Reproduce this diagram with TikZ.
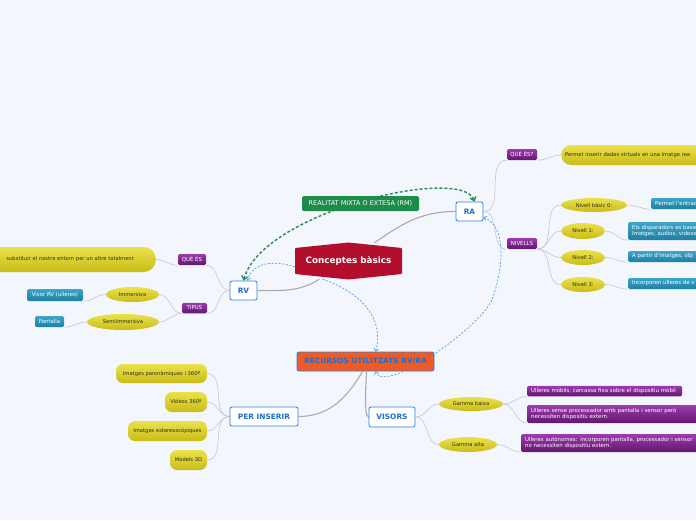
\documentclass[tikz,border=0pt]{standalone}
\usepackage{fontspec}
\setmainfont{DejaVu Sans}
\usetikzlibrary{shapes.geometric,arrows.meta,backgrounds}

\definecolor{bgblue}{HTML}{F3F6FD}
\definecolor{rootred}{HTML}{B30E2B}
\definecolor{topicborder}{HTML}{2F80DC}
\definecolor{topictext}{HTML}{1C6FD2}
\definecolor{recorange}{HTML}{F05A24}
\definecolor{rmgreen}{HTML}{1D8B4A}
\definecolor{tagtop}{HTML}{9B3CAC}
\definecolor{tagbot}{HTML}{62176F}
\definecolor{notetop}{HTML}{3AA6CA}
\definecolor{notebot}{HTML}{1F7FA2}
\definecolor{yelltop}{HTML}{EBE14C}
\definecolor{yellbot}{HTML}{C9BC18}
\definecolor{leaftext}{HTML}{2E2E12}
\definecolor{linegray}{HTML}{C4C4C4}
\definecolor{maingray}{HTML}{ABABAB}
\definecolor{relblue}{HTML}{4A9BE6}
\definecolor{relgreen}{HTML}{2E8B57}

\newcommand{\fixtxt}[1]{\makebox[0pt]{#1}}

\begin{document}
\begin{tikzpicture}[x=1pt,y=-1pt,line cap=round,line join=round,
  topic/.style={draw=topicborder,line width=0.8pt,fill=white,rounded corners=2pt,text=topictext,
    font=\bfseries\fontsize{7.4}{8.4}\selectfont,inner sep=0pt},
  rootlabel/.style={text=white,font=\bfseries\fontsize{8.8}{10}\selectfont,inner sep=0pt},
  rmlabel/.style={fill=rmgreen,rounded corners=1.5pt,text=white,font=\fontsize{6.5}{7.5}\selectfont,inner sep=0pt},
  tag/.style={rounded corners=1.5pt,top color=tagtop,bottom color=tagbot,text=white,
    font=\fontsize{5.4}{6.4}\selectfont,inner sep=0pt},
  note/.style={rounded corners=1.5pt,top color=notetop,bottom color=notebot,text=white,
    font=\fontsize{5.4}{6.6}\selectfont,inner xsep=4pt,inner ysep=0pt,anchor=west,align=left},
  pnote/.style={note,top color=tagtop,bottom color=tagbot},
  leaf/.style={ellipse,top color=yelltop,bottom color=yellbot,text=leaftext,
    font=\fontsize{5.2}{6.2}\selectfont,inner sep=0pt},
  leafbox/.style={leaf,rectangle,rounded corners=7pt},
  link/.style={draw=linegray,line width=0.55pt},
  mainlink/.style={draw=maingray,line width=1.1pt},
  relb/.style={draw=relblue,line width=0.65pt,dash pattern=on 2pt off 1.6pt,
    >={Straight Barb[length=2.5pt,width=4.5pt]}},
  relg/.style={draw=relgreen,line width=1.4pt,dash pattern=on 3pt off 2pt,
    >={Straight Barb[length=3.5pt,width=6pt]}}]
  \useasboundingbox (0,0) rectangle (696,520);
  \clip (0,0) rectangle (696,520);

  \fill[rootred,rounded corners=1pt] (295,248) -- (348.5,242.5) -- (402,248) -- (402,274) -- (348.5,279.5) -- (295,274) -- cycle;
  \node[rootlabel,minimum width=107pt,minimum height=36pt] (root) at (348.5,261) {Conceptes bàsics};

  \node[topic,minimum width=27pt,minimum height=19pt] (ra) at (469.5,211.5) {RA};
  \node[topic,minimum width=27pt,minimum height=19pt] (rv) at (243.5,290.5) {RV};
  \node[topic,fill=recorange,minimum width=137pt,minimum height=19pt] (recursos) at (365.5,361.5) {RECURSOS UTILITZATS RV/RA};
  \node[topic,minimum width=68pt,minimum height=19pt] (perins) at (264,416.5) {PER INSERIR};
  \node[topic,minimum width=46pt,minimum height=20pt] (visors) at (392,417) {VISORS};
  \node[rmlabel,minimum width=117pt,minimum height=15pt] (mixta) at (360.5,203.5) {REALITAT MIXTA O EXTESA (RM)};

  \node[tag,minimum width=28pt,minimum height=11pt] (rvques) at (192,259.5) {QUÈ ÉS};
  \node[tag,minimum width=25pt,minimum height=10.5pt] (tipus) at (194.5,308) {TIPUS};
  \node[tag,minimum width=30pt,minimum height=11pt] (raques) at (522,154.5) {QUÈ ÉS?};
  \node[tag,minimum width=30pt,minimum height=11pt] (nivells) at (522,243.5) {NIVELLS};

  \node[leafbox,rounded corners=12pt,anchor=east,minimum height=25pt,text width=230pt,align=right,inner xsep=22pt] (subst) at (156,259.5) {substituir el nostre entorn per un altre totalment};
  \node[leaf,minimum width=53pt,minimum height=15pt] (immer) at (132.5,294.5) {\fixtxt{Immersiva}};
  \node[leaf,minimum width=72pt,minimum height=16pt] (semi) at (123,322) {\fixtxt{Semiimmersiva}};
  \node[note,anchor=center,minimum width=56pt,minimum height=12pt,inner xsep=2pt] (visor) at (55,295) {Visor RV (ulleres)};
  \node[note,anchor=center,minimum width=29pt,minimum height=11pt,inner xsep=2pt] (pant) at (49.5,321.5) {Pantalla};

  \node[leafbox,rounded corners=10pt,anchor=west,minimum height=20pt,text width=190pt,align=left,inner xsep=4pt] (inserir) at (561,155) {Permet inserir dades virtuals en una imatge rea};
  \node[leaf,minimum width=66pt,minimum height=14pt] (niv0) at (594,205) {\fixtxt{Nivell bàsic 0:}};
  \node[leaf,minimum width=44pt,minimum height=16pt] (niv1) at (583,231) {\fixtxt{Nivell 1:}};
  \node[leaf,minimum width=44pt,minimum height=15pt] (niv2) at (583,257.5) {\fixtxt{Nivell 2:}};
  \node[leaf,minimum width=44pt,minimum height=15pt] (niv3) at (583,284.5) {\fixtxt{Nivell 3:}};
  \node[note,minimum height=11pt,text width=120pt] (n0) at (651,203.5) {Permet l'entrac};
  \node[note,minimum height=18pt,text width=120pt] (n1) at (628,231) {Els disparadors es base\\Imatges, audios, videos};
  \node[note,minimum height=11pt,text width=120pt] (n2) at (628,256.5) {A partir d'imatges, obj};
  \node[note,minimum height=11pt,text width=120pt] (n3) at (628,283.5) {Incorporen ulleres de v};

  \node[leafbox,minimum width=91pt,minimum height=19pt] (pano) at (161.5,373.5) {\fixtxt{Imatges panoràmiques i 360º}};
  \node[leafbox,minimum width=42pt,minimum height=20pt] (videos) at (186,402) {\fixtxt{Videos 360º}};
  \node[leafbox,minimum width=79pt,minimum height=20pt] (ester) at (167.5,431) {\fixtxt{Imatges estereoscòpiques}};
  \node[leafbox,minimum width=37pt,minimum height=20pt] (models) at (188.5,460) {\fixtxt{Models 3D}};

  \node[leaf,minimum width=64pt,minimum height=14pt] (gbaixa) at (471,404) {\fixtxt{Gamma baixa}};
  \node[leaf,minimum width=58pt,minimum height=15pt] (galta) at (468,444.5) {\fixtxt{Gamma alta}};
  \node[pnote,minimum height=10.5pt,text width=147pt] (u1) at (527,391) {Ulleres mòbils, carcassa fixa sobre el dispositiu mòbil};
  \node[pnote,minimum height=18pt,text width=180pt] (u2) at (527,414) {Ulleres sense processador amb pantalla i sensor però\\necessiten dispositiu extern.};
  \node[pnote,minimum height=18pt,text width=200pt] (u3) at (521,443) {Ulleres autònomes: incorporen pantalla, processador i sensor\\no necessiten dispositiu extern.};

  \begin{scope}[on background layer]
    \fill[bgblue] (0,0) rectangle (696,520);
    \draw[mainlink] (root) to[out=35,in=180] (ra.west);
    \draw[mainlink] (root) to[out=212,in=0] (rv.east);
    \draw[mainlink] ([xshift=-3pt]recursos.south) to[out=240,in=0] (perins.east);
    \draw[mainlink] ([xshift=1pt]recursos.south) to[out=-90,in=180,looseness=0.3] (visors.west);

    \draw[link] (ra.east) to[out=0,in=180] (raques.south west);
    \draw[link] (ra.east) to[out=0,in=180] (nivells.south west);
    \draw[link] (raques.south east) to[out=0,in=180] (inserir.west);
    \draw[link] (nivells.south east) to[out=0,in=180] (niv0.west);
    \draw[link] (nivells.south east) to[out=0,in=180] (niv1.west);
    \draw[link] (nivells.south east) to[out=0,in=180] (niv2.west);
    \draw[link] (nivells.south east) to[out=0,in=180] (niv3.west);
    \draw[link] (niv0.east) to[out=0,in=180] (n0.south west);
    \draw[link] (niv1.east) to[out=0,in=180] (n1.south west);
    \draw[link] (niv2.east) to[out=0,in=180] (n2.south west);
    \draw[link] (niv3.east) to[out=0,in=180] (n3.south west);

    \draw[link] (rv.west) to[out=180,in=0] (rvques.south east);
    \draw[link] (rv.west) to[out=180,in=0] (tipus.south east);
    \draw[link] (rvques.south west) to[out=180,in=0] (subst.east);
    \draw[link] (tipus.south west) to[out=180,in=0] (immer.east);
    \draw[link] (tipus.south west) to[out=180,in=0] (semi.east);
    \draw[link] (immer.west) to[out=180,in=0] (visor.south east);
    \draw[link] (semi.west) to[out=180,in=0] (pant.south east);

    \draw[link] (perins.west) to[out=180,in=0] (pano.east);
    \draw[link] (perins.west) to[out=180,in=0] (videos.east);
    \draw[link] (perins.west) to[out=180,in=0] (ester.east);
    \draw[link] (perins.west) to[out=180,in=0] (models.east);
    \draw[link] (visors.east) to[out=0,in=180] (gbaixa.west);
    \draw[link] (visors.east) to[out=0,in=180] (galta.west);
    \draw[link] (gbaixa.east) to[out=0,in=180] (u1.south west);
    \draw[link] (gbaixa.east) to[out=0,in=180] (u2.south west);
    \draw[link] (galta.east) to[out=0,in=180] (u3.south west);

    \draw[relg,<->] (rv.north) .. controls (262,212) and (462,165) .. ([xshift=5pt]ra.north);
    \draw[relb,->] ([yshift=-6pt]root.west) .. controls (275,260) and (252,262) .. ([xshift=4pt]rv.north);
    \draw[relb,->] ([xshift=-26pt]root.south) .. controls (360,292) and (385,318) .. ([xshift=10pt]recursos.north);
    \draw[relb,<->] ([yshift=4pt]ra.south east) .. controls (506,226) and (504,265) .. (493,297) .. controls (485,325) and (385,395) .. ([xshift=10pt]recursos.south);
  \end{scope}
\end{tikzpicture}
\end{document}
